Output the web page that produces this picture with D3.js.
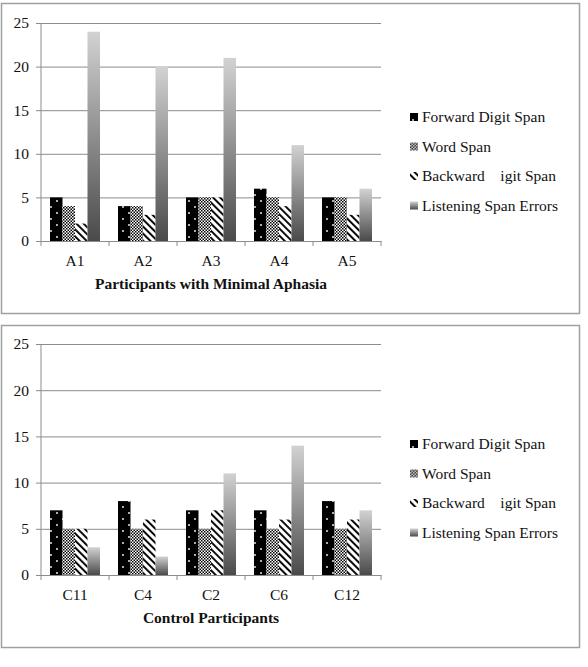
<!DOCTYPE html>
<html>
<head>
<meta charset="utf-8">
<script src="https://cdn.jsdelivr.net/npm/d3@7"></script>
<style>
  body { margin: 0; background: #fff; }
  text { font-family: "Liberation Serif", "DejaVu Serif", serif; fill: #111; }
</style>
</head>
<body>
<svg id="chart" width="588" height="667"></svg>
<script>

// series names (the missing "D" in the third one is in the original)
var seriesNames = ["Forward Digit Span", "Word Span", "Backward    igit Span", "Listening Span Errors"];
var yTicks = [0, 5, 10, 15, 20, 25];

// top chart: participants with minimal aphasia
var aphasiaCats = ["A1", "A2", "A3", "A4", "A5"];
var aphasiaForward = [5, 4, 5, 6, 5];
var aphasiaWord = [4, 4, 5, 5, 5];
var aphasiaBackward = [2, 3, 5, 4, 3];
var aphasiaListening = [24, 20, 21, 11, 6];

// bottom chart: control participants
var controlCats = ["C11", "C4", "C2", "C6", "C12"];
var controlForward = [7, 8, 7, 7, 8];
var controlWord = [5, 5, 5, 5, 5];
var controlBackward = [5, 6, 7, 6, 6];
var controlListening = [3, 2, 11, 14, 7];

var fills = ["url(#dots)", "url(#checker)", "url(#stripes)", "url(#shade)"];

var svg = d3.select("#chart");
var defs = svg.append("defs");

// black with white dots
var dots = defs.append("pattern").attr("id", "dots")
  .attr("patternUnits", "userSpaceOnUse").attr("width", 12).attr("height", 12);
dots.append("rect").attr("width", 12).attr("height", 12).attr("fill", "#000");
dots.append("circle").attr("cx", 3).attr("cy", 3).attr("r", 0.9).attr("fill", "#fff");
dots.append("circle").attr("cx", 9).attr("cy", 9).attr("r", 0.9).attr("fill", "#fff");

// fine checkerboard
var checker = defs.append("pattern").attr("id", "checker")
  .attr("patternUnits", "userSpaceOnUse").attr("width", 3).attr("height", 3);
checker.append("rect").attr("width", 3).attr("height", 3).attr("fill", "#fff");
checker.append("rect").attr("width", 1.5).attr("height", 1.5).attr("fill", "#000");
checker.append("rect").attr("x", 1.5).attr("y", 1.5).attr("width", 1.5).attr("height", 1.5).attr("fill", "#000");

// diagonal stripes, top-left to bottom-right
var stripes = defs.append("pattern").attr("id", "stripes")
  .attr("patternUnits", "userSpaceOnUse").attr("width", 5).attr("height", 5)
  .attr("patternTransform", "rotate(-45)");
stripes.append("rect").attr("width", 5).attr("height", 5).attr("fill", "#fff");
stripes.append("rect").attr("width", 1.9).attr("height", 5).attr("fill", "#000");

// grey gradient, light at the top
var shade = defs.append("linearGradient").attr("id", "shade")
  .attr("x1", 0).attr("y1", 0).attr("x2", 0).attr("y2", 1);
shade.append("stop").attr("offset", "0%").attr("stop-color", "#d2d2d2");
shade.append("stop").attr("offset", "100%").attr("stop-color", "#4a4a4a");


function drawPanel(opt){
  var g = svg.append("g");

  // frame around the panel
  g.append("rect")
    .attr("x", 1.5).attr("y", opt.top + 0.5)
    .attr("width", 578).attr("height", opt.height)
    .attr("fill", "#fff").attr("stroke", "#a0a0a0").attr("stroke-width", 1.5);

  var x = d3.scaleBand().domain(opt.cats).range([41, 381]);
  var xs = d3.scaleBand().domain(d3.range(4)).range([9, 59]);
  var y = d3.scaleLinear().domain([0, 25]).range([opt.y0, opt.y25]);

  // gridlines + y labels
  var grid = g.append("g").attr("transform", "translate(41,0)")
    .call(d3.axisLeft(y).tickValues(yTicks).tickSize(-340).tickSizeOuter(0).tickPadding(12));
  grid.select(".domain").remove();
  grid.selectAll(".tick line").attr("stroke", "#8c8c8c").attr("x1", -5);
  grid.selectAll(".tick text")
    .attr("font-size", 15.5).attr("font-family", "Liberation Serif").attr("fill", "#111");

  // bars
  var series = [opt.forward, opt.word, opt.backward, opt.listening];
  series.forEach(function(vals, s){
    g.selectAll(".bar" + s)
      .data(vals)
      .enter().append("rect")
      .attr("x", function(d, i){ return x(opt.cats[i]) + xs(s); })
      .attr("y", function(d){ return y(d); })
      .attr("width", xs.bandwidth())
      .attr("height", function(d){ return y(0) - y(d); })
      .attr("fill", fills[s]);
  });

  // x axis with ticks between categories
  g.append("line")
    .attr("x1", 41).attr("x2", 41).attr("y1", opt.y25).attr("y2", opt.y0)
    .attr("stroke", "#8c8c8c");
  var xa = g.append("g").attr("transform", "translate(0," + opt.y0 + ")")
    .call(d3.axisBottom(x).tickSize(0).tickPadding(14));
  xa.select(".domain").attr("stroke", "#8c8c8c");
  xa.selectAll(".tick text")
    .attr("font-size", 15.5).attr("font-family", "Liberation Serif").attr("fill", "#111");
  g.selectAll(".sep")
    .data(x.domain().concat(["end"]))
    .enter().append("line")
    .attr("x1", function(d, i){ return 41 + i * x.bandwidth(); })
    .attr("x2", function(d, i){ return 41 + i * x.bandwidth(); })
    .attr("y1", opt.y0).attr("y2", opt.y0 + 5)
    .attr("stroke", "#8c8c8c");

  g.append("text")
    .attr("x", 211).attr("y", opt.titleY)
    .attr("text-anchor", "middle")
    .attr("font-size", 15.5).attr("font-weight", "bold")
    .text(opt.title);

  // legend
  var leg = g.selectAll(".leg")
    .data(seriesNames)
    .enter().append("g")
    .attr("transform", function(d, i){ return "translate(410," + (opt.legendY + i * 29.5) + ")"; });
  leg.append("rect")
    .attr("x", 0).attr("y", -4).attr("width", 8).attr("height", 8)
    .attr("fill", function(d, i){ return fills[i]; });
  leg.append("text")
    .attr("x", 12).attr("y", 5)
    .attr("font-size", 15.5)
    .attr("xml:space", "preserve")
    .style("white-space", "pre")
    .text(function(d){ return d; });
}


drawPanel({
  top: 3, height: 310, y0: 241, y25: 23, titleY: 289, legendY: 117,
  cats: aphasiaCats, title: "Participants with Minimal Aphasia",
  forward: aphasiaForward, word: aphasiaWord, backward: aphasiaBackward, listening: aphasiaListening
});

drawPanel({
  top: 325, height: 322, y0: 575, y25: 344, titleY: 623, legendY: 444,
  cats: controlCats, title: "Control Participants",
  forward: controlForward, word: controlWord, backward: controlBackward, listening: controlListening
});

</script>
</body>
</html>
